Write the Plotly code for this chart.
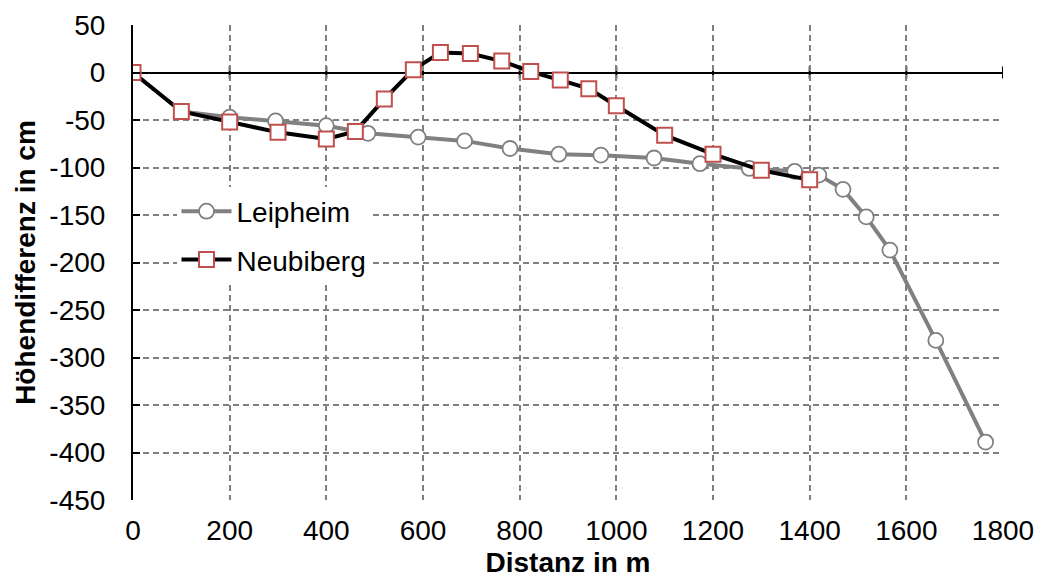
import plotly.graph_objects as go

leip_x = [0, 100, 200, 295, 400, 486, 590, 686, 780, 881, 968, 1078, 1173, 1275, 1369, 1419, 1469, 1517, 1566, 1661, 1764]
leip_y = [0, -41, -47, -51, -56, -64, -68, -72, -80, -86, -87, -90, -96, -101, -104, -108, -123, -152, -187, -282, -389]

neu_x = [0, 100, 200, 300, 400, 460, 520, 580, 636, 698, 763, 823, 884, 943, 1000, 1100, 1200, 1300, 1400]
neu_y = [0, -41, -52, -63, -70, -62, -28, 3, 21, 20, 12, 1, -8, -17, -35, -66, -86, -103, -113]

x_ticks = list(range(0, 1801, 200))
y_ticks = list(range(-450, 51, 50))

FONT = "Liberation Sans, Arial, sans-serif"
FS = 28

fig = go.Figure()
fig.add_trace(go.Scatter(
    x=leip_x, y=leip_y, name="Leipheim", mode="lines+markers",
    line=dict(color="#808080", width=4),
    marker=dict(symbol="circle", size=15, color="white", line=dict(color="#808080", width=1.8)),
    legendgroup="a",
))
fig.add_trace(go.Scatter(
    x=neu_x, y=neu_y, name="Neubiberg", mode="lines+markers",
    line=dict(color="black", width=4),
    marker=dict(symbol="square", size=15, color="white", line=dict(color="#C0504D", width=2)),
    legendgroup="b",
))

# tick marks crossing the x axis line at y=0
for t in x_ticks[1:]:
    fig.add_shape(type="line", xref="x", yref="y", x0=t, x1=t,
                  ysizemode="pixel", yanchor=0, y0=-6, y1=6,
                  line=dict(color="black", width=2), layer="below")

fig.update_layout(
    width=1043, height=578,
    margin=dict(l=133, r=40, t=25, b=78, autoexpand=False),
    paper_bgcolor="white", plot_bgcolor="white",
    font=dict(family=FONT, size=FS, color="black"),
    showlegend=True,
    legend=dict(x=0.05, y=0.66, xanchor="left", yanchor="top",
                bgcolor="white", font=dict(size=FS, family=FONT),
                traceorder="grouped", tracegroupgap=9, itemwidth=50),
    xaxis=dict(
        range=[0, 1800], tickvals=x_ticks, ticktext=[str(v) for v in x_ticks],
        showgrid=True, gridcolor="#808080", griddash="6px,4px", gridwidth=2,
        zeroline=False, showline=False, ticks="", ticklabelstandoff=11,
        automargin=False,
        title=dict(text="<b>Distanz in m</b>", font=dict(size=FS, family=FONT), standoff=9),
        tickfont=dict(size=FS, family=FONT),
    ),
    yaxis=dict(
        range=[-450, 50], tickvals=y_ticks, ticktext=[str(v) for v in y_ticks],
        showgrid=True, gridcolor="#808080", griddash="6px,4px", gridwidth=2,
        zeroline=True, zerolinecolor="black", zerolinewidth=2,
        showline=True, linecolor="black", linewidth=2,
        ticks="inside", ticklen=7, tickwidth=2, tickcolor="black",
        ticklabelstandoff=20, automargin=False,
        title=dict(text="<b>Höhendifferenz in cm</b>", font=dict(size=FS, family=FONT), standoff=6),
        tickfont=dict(size=FS, family=FONT),
    ),
)

fig.write_html("out.html")
